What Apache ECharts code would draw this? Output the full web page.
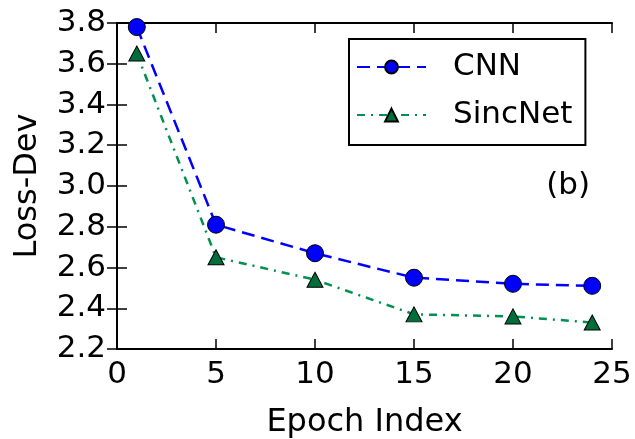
<!DOCTYPE html>
<html>
<head>
<meta charset="utf-8">
<script src="https://cdn.jsdelivr.net/npm/echarts@6/dist/echarts.min.js"></script>
<style>
  html, body { margin: 0; padding: 0; background: #fff; }
  #chart { width: 635px; height: 439px; }
</style>
</head>
<body>
<div id="chart"></div>
<script>
// loss on dev set per epoch
var epochs = [1, 5, 10, 15, 20, 24];
var cnnLoss = [3.78, 2.81, 2.67, 2.55, 2.52, 2.51];
var sincLoss = [3.65, 2.65, 2.54, 2.37, 2.36, 2.33];
var xTicks = [0, 5, 10, 15, 20, 25];
var yTicks = [2.2, 2.4, 2.6, 2.8, 3.0, 3.2, 3.4, 3.6, 3.8];

var font = "DejaVu Sans";

function pairs(xs, ys) {
  return xs.map(function (x, i) { return [x, ys[i]]; });
}

var xBase = {
  type: "value",
  min: xTicks[0],
  max: xTicks[xTicks.length - 1],
  interval: xTicks[1] - xTicks[0],
  splitLine: { show: false },
  axisLine: { lineStyle: { color: "#000", width: 2 } },
  axisTick: { inside: true, length: 10, lineStyle: { color: "#000", width: 1.5 } }
};
var yBase = {
  type: "value",
  min: yTicks[0],
  max: yTicks[yTicks.length - 1],
  interval: 0.2,
  splitLine: { show: false },
  axisLine: { lineStyle: { color: "#000", width: 2 } },
  axisTick: { inside: true, length: 10, lineStyle: { color: "#000", width: 1.5 } }
};

var chart = echarts.init(document.getElementById("chart"));
chart.setOption({
  animation: false,
  backgroundColor: "#fff",
  textStyle: { fontFamily: font },
  grid: { left: 117, right: 23, top: 23, bottom: 90, containLabel: false, outerBoundsMode: "none" },
  title: {
    text: "(b)",
    right: 40,
    top: 165,
    textStyle: { fontFamily: font, fontSize: 31, fontWeight: "normal", color: "#000" }
  },
  legend: {
    orient: "vertical",
    left: 349,
    top: 39,
    padding: [12, 13, 14, 7],
    itemGap: 16,
    itemWidth: 69,
    itemHeight: 16,
    borderColor: "#000",
    borderWidth: 2,
    borderRadius: 0,
    textStyle: { fontFamily: font, fontSize: 31, color: "#000", lineHeight: 32, padding: [0, 0, 0, 22] },
    data: ["CNN", "SincNet"]
  },
  xAxis: [
    Object.assign({}, xBase, {
      position: "bottom",
      name: "Epoch Index",
      nameLocation: "middle",
      nameGap: 58,
      nameTextStyle: { fontFamily: font, fontSize: 32, color: "#000" },
      axisLabel: { fontFamily: font, fontSize: 31, color: "#000", margin: 10 }
    }),
    Object.assign({}, xBase, { position: "top", axisLabel: { show: false } })
  ],
  yAxis: [
    Object.assign({}, yBase, {
      position: "left",
      name: "Loss-Dev",
      nameLocation: "middle",
      nameGap: 73,
      nameTextStyle: { fontFamily: font, fontSize: 32, color: "#000" },
      axisLabel: {
        fontFamily: font, fontSize: 31, color: "#000", margin: 11,
        formatter: function (v) { return v.toFixed(1); }
      }
    }),
    Object.assign({}, yBase, { position: "right", axisLabel: { show: false } })
  ],
  series: [
    {
      name: "CNN",
      type: "line",
      clip: false,
      z: 5,
      data: pairs(epochs, cnnLoss),
      symbol: "circle",
      symbolSize: 17,
      lineStyle: { color: "#0000ff", width: 2.5, type: [13, 7] },
      itemStyle: { color: "#0000ff", borderColor: "#000", borderWidth: 1 }
    },
    {
      name: "SincNet",
      type: "line",
      clip: false,
      z: 4,
      data: pairs(epochs, sincLoss),
      symbol: "triangle",
      symbolSize: [16, 15],
      lineStyle: { color: "#00904f", width: 2.5, type: [8, 6, 2, 6] },
      itemStyle: { color: "#006e3b", borderColor: "#000", borderWidth: 1 }
    }
  ]
});
</script>
</body>
</html>
